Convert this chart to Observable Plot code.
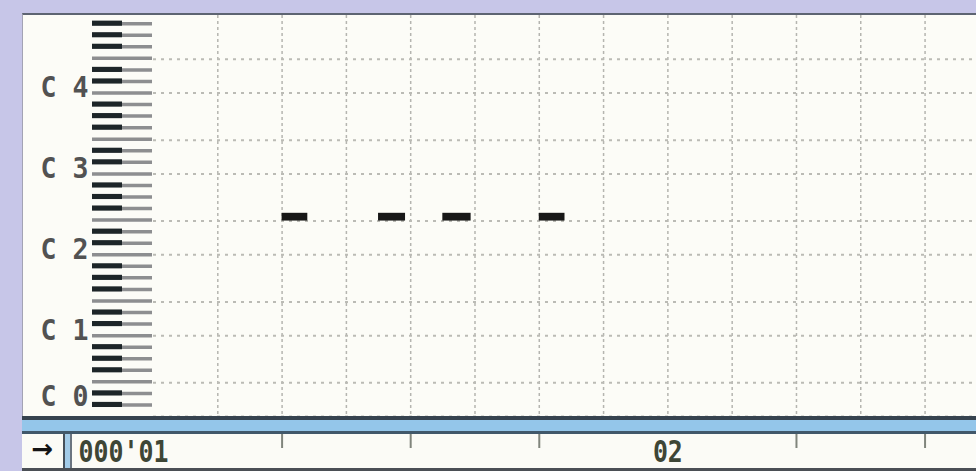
<!DOCTYPE html>
<html><head><meta charset="utf-8">
<script src="https://cdn.jsdelivr.net/npm/d3@7"></script>
<script src="https://cdn.jsdelivr.net/npm/@observablehq/plot@0.6"></script>
<style>
html,body{margin:0;padding:0;}
body{width:976px;height:471px;overflow:hidden;background:#c7c6e8;position:relative;}
.abs{position:absolute;}
#panel{left:22px;top:13px;width:954px;height:403px;background:#fcfcf7;border-top:2px solid #5d6472;border-left:1px solid #a3a3b4;box-sizing:border-box;}
#bar{left:22px;top:416px;width:954px;height:18px;background:#94c6ea;border-top:4px solid #36434f;border-bottom:3px solid #41586a;box-sizing:border-box;}
#rulerbg{left:22px;top:434px;width:954px;height:37px;background:#fbfbf6;border-bottom:3px solid #4b4f55;box-sizing:border-box;}
#arrow{left:22px;top:434px;width:41px;height:34px;line-height:34px;text-align:center;font:bold 26px "DejaVu Sans",sans-serif;color:#141414;}
#sep{left:63px;top:434px;width:9px;height:34px;background:#a2cbe8;border-left:2px solid #46505a;border-right:2px solid #6a7480;box-sizing:border-box;}
#roll{left:153px;top:15px;width:823px;height:401px;overflow:hidden;}
#keys{left:23px;top:15px;width:130px;height:401px;}
#ruler{left:72px;top:432px;width:904px;height:39px;}
</style>
</head><body>
<div id="panel" class="abs"></div>
<div id="bar" class="abs"></div>
<div id="rulerbg" class="abs"></div>
<div id="arrow" class="abs">→</div>
<div id="sep" class="abs"></div>
<div id="keys" class="abs"></div>
<div id="roll" class="abs"></div>
<div id="ruler" class="abs"></div>
<script>
// ---- data ----
// pitch in semitones above C0 (C0 = 0); time in beats from bar 1 (4 beats per bar)
const noteStarts  = [1.0, 1.75, 2.25, 3.0];
const noteLengths = [0.2, 0.21, 0.22, 0.2];
const notePitches = [29, 29, 29, 29];          // F2
const octaves     = [0, 1, 2, 3, 4];           // C 0 … C 4
const rulerBars   = [1, 2];
const rulerLabels = ["000'01", "02"];
const rulerBeats  = [1, 2, 3, 5, 6];           // beat ticks on the ruler
const gridBeats   = [0.5,1,1.5,2,2.5,3,3.5,4,4.5,5,5.5,6]; // eighth-note grid
const visibleBeats = 6.4;
const topPitch = 59.5;

const notes = noteStarts.map((s, i) => ({start: s, len: noteLengths[i], pitch: notePitches[i]}));
const gridPitches = octaves.flatMap(o => [o * 12, o * 12 + 5]);  // C and F lines
const allBounds = d3.range(0, 36).map(k => k * 12 / 7);
const whiteBounds = allBounds.filter(b => b > 0 && b < topPitch);
const blackKeys = allBounds.filter((b, k) => [1, 2, 4, 5, 6].includes(k % 7) && b < topPitch);

const Y = {domain: [0, topPitch], range: [401, 0], axis: null};

function squeeze(svg, perChar) {
  d3.select(svg).selectAll("text").each(function () {
    const n = this.textContent.length;
    this.setAttribute("textLength", n * perChar);
    this.setAttribute("lengthAdjust", "spacingAndGlyphs");
  });
  return svg;
}

// ---- piano roll ----
const roll = Plot.plot({
  width: 823, height: 401, margin: 0,
  x: {domain: [0, visibleBeats], range: [0, 823], axis: null},
  y: Y,
  style: {background: "transparent"},
  marks: [
    Plot.ruleX(gridBeats, {stroke: "#b5b5b0", strokeWidth: 1.5, strokeDasharray: "3,3"}),
    Plot.ruleY(gridPitches, {stroke: "#bbbbb5", strokeWidth: 2, strokeDasharray: "3,5"}),
    Plot.rect(notes, {x1: "start", x2: d => d.start + d.len, y1: "pitch", y2: d => d.pitch + 1.15, fill: "#171717"})
  ]
});
document.getElementById("roll").appendChild(roll);

// ---- keyboard + octave labels ----
const keys = Plot.plot({
  width: 130, height: 401, margin: 0,
  x: {domain: [0, 1], range: [69, 129], axis: null},
  y: Y,
  style: {background: "transparent", overflow: "visible"},
  marks: [
    Plot.ruleY(whiteBounds, {x1: 0, x2: 1, stroke: "#8d8e90", strokeWidth: 3.5}),
    Plot.rect(blackKeys, {x1: 0, x2: 0.5, y1: d => d - 0.38, y2: d => d + 0.38, fill: "#1d2528"}),
    Plot.text(octaves, {
      x: 0, y: o => Math.max(o * 12 + 0.8, 3), text: o => "C " + o,
      textAnchor: "end", dx: -4, fontSize: 29, fontWeight: "bold",
      fontFamily: "DejaVu Sans Mono", fill: "#525252"
    })
  ]
});
document.getElementById("keys").appendChild(squeeze(keys, 16));

// ---- bar ruler ----
const ruler = Plot.plot({
  width: 904, height: 39, margin: 0,
  x: {domain: [0, visibleBeats], range: [81, 904], axis: null},
  y: {domain: [0, 39], range: [0, 39], axis: null},
  style: {background: "transparent", overflow: "visible"},
  marks: [
    Plot.ruleX(rulerBeats, {y1: 2, y2: 16, stroke: "#80857c", strokeWidth: 2}),
    Plot.text(rulerBars, {
      x: b => (b - 1) * 4, y: 19.5, text: (b, i) => rulerLabels[i],
      textAnchor: "end", dx: 15, fontSize: 30, fontWeight: "bold",
      fontFamily: "DejaVu Sans Mono", fill: "#3e4636"
    })
  ]
});
document.getElementById("ruler").appendChild(squeeze(ruler, 15));
</script>
</body></html>
